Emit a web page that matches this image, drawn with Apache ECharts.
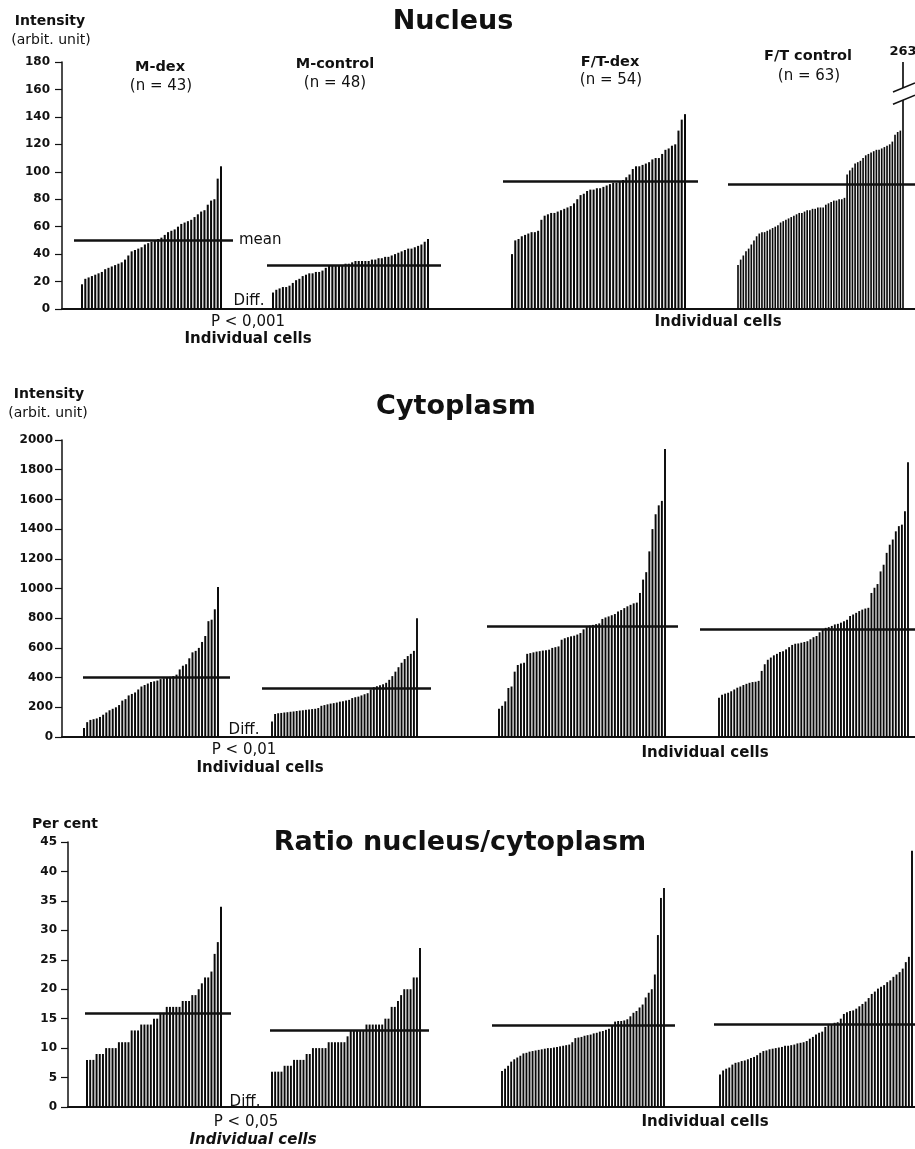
<!DOCTYPE html>
<html><head><meta charset="utf-8">
<script src="https://cdn.jsdelivr.net/npm/echarts@6/dist/echarts.min.js"></script>
<style>html,body{margin:0;padding:0;background:#fff}#c{width:915px;height:1149px}</style>
</head><body><div id="c"></div>
<script>
// ---------------- DATA ----------------
const groupNames = ['M-dex', 'M-control', 'F/T-dex', 'F/T control'];
const groupCounts = ['(n = 43)', '(n = 48)', '(n = 54)', '(n = 63)'];

// Nucleus intensity (arbit. unit), individual cells sorted ascending
const nucleusMdex = [18, 22, 23, 24, 25, 26, 27, 29, 30, 31, 32, 33, 34, 36, 39, 42, 43, 44, 45, 47, 48, 49, 50, 51, 52, 54, 56, 57, 58, 60, 62, 63, 64, 65, 67, 69, 71, 72, 76, 79, 80, 95, 104];
const nucleusMcontrol = [12, 14, 15, 16, 16, 17, 19, 21, 22, 24, 25, 26, 26, 27, 27, 28, 30, 32, 32, 32, 32, 32, 33, 33, 34, 35, 35, 35, 35, 35, 36, 36, 37, 37, 38, 38, 39, 40, 41, 42, 43, 44, 44, 45, 46, 47, 49, 51];
const nucleusFTdex = [40, 50, 51, 53, 54, 55, 56, 56, 57, 65, 68, 69, 70, 70, 71, 72, 73, 74, 75, 77, 80, 83, 84, 86, 87, 87, 88, 88, 89, 90, 91, 92, 92, 93, 94, 96, 98, 102, 104, 104, 105, 106, 107, 109, 110, 110, 113, 116, 117, 119, 120, 130, 138, 142];
const nucleusFTcontrol = [32, 36, 39, 42, 44, 47, 50, 53, 55, 56, 56, 57, 58, 59, 60, 61, 63, 64, 65, 66, 67, 68, 69, 70, 70, 71, 72, 72, 73, 73, 74, 74, 74, 76, 77, 78, 79, 79, 80, 80, 81, 98, 101, 103, 106, 107, 108, 110, 112, 113, 114, 115, 116, 116, 117, 118, 119, 120, 122, 127, 129, 130, 263];
const nucleusMeans = [50, 32, 93, 91];

// Cytoplasm intensity (arbit. unit)
const cytoMdex = [60, 100, 115, 120, 125, 135, 150, 165, 180, 190, 200, 215, 245, 255, 280, 290, 300, 320, 340, 350, 360, 370, 375, 380, 390, 395, 400, 405, 410, 420, 455, 480, 490, 530, 570, 580, 600, 640, 680, 780, 790, 860, 1010];
const cytoMcontrol = [105, 155, 160, 162, 165, 167, 170, 172, 175, 178, 180, 183, 185, 188, 190, 195, 210, 215, 220, 225, 228, 232, 238, 240, 245, 250, 262, 268, 272, 280, 288, 295, 320, 335, 342, 348, 355, 365, 385, 410, 440, 470, 500, 525, 545, 560, 580, 800];
const cytoFTdex = [190, 210, 240, 330, 340, 440, 485, 495, 500, 560, 565, 570, 575, 578, 582, 585, 588, 600, 605, 610, 655, 665, 672, 678, 682, 690, 700, 725, 740, 750, 755, 760, 765, 795, 805, 812, 820, 828, 845, 855, 868, 880, 890, 900, 905, 970, 1060, 1110, 1250, 1400, 1500, 1560, 1590, 1940];
const cytoFTcontrol = [265, 285, 292, 298, 308, 320, 332, 340, 350, 358, 365, 370, 372, 378, 445, 490, 520, 535, 550, 560, 572, 578, 590, 605, 620, 628, 630, 635, 640, 645, 658, 672, 680, 705, 725, 735, 740, 748, 758, 762, 770, 780, 790, 815, 825, 836, 848, 858, 865, 870, 970, 1005, 1030, 1115, 1160, 1240, 1295, 1330, 1385, 1420, 1430, 1520, 1850];
const cytoMeans = [400, 325, 744, 724];

// Ratio nucleus/cytoplasm (per cent)
const ratioMdex = [8, 8, 8, 9, 9, 9, 10, 10, 10, 10, 11, 11, 11, 11, 13, 13, 13, 14, 14, 14, 14, 15, 15, 16, 16, 17, 17, 17, 17, 17, 18, 18, 18, 19, 19, 20, 21, 22, 22, 23, 26, 28, 34];
const ratioMcontrol = [6, 6, 6, 6, 7, 7, 7, 8, 8, 8, 8, 9, 9, 10, 10, 10, 10, 10, 11, 11, 11, 11, 11, 11, 12, 13, 13, 13, 13, 13, 14, 14, 14, 14, 14, 14, 15, 15, 17, 17, 18, 19, 20, 20, 20, 22, 22, 27];
const ratioFTdex = [6.1, 6.5, 7.0, 7.7, 8.1, 8.4, 8.7, 9.1, 9.2, 9.4, 9.5, 9.6, 9.7, 9.8, 9.9, 10.0, 10.0, 10.1, 10.2, 10.3, 10.4, 10.5, 10.6, 11.0, 11.7, 11.8, 11.9, 12.1, 12.2, 12.3, 12.5, 12.6, 12.8, 12.9, 13.1, 13.3, 13.8, 14.5, 14.6, 14.6, 14.7, 14.9, 15.4, 16.0, 16.3, 16.9, 17.4, 18.6, 19.4, 20.0, 22.5, 29.2, 35.5, 37.2];
const ratioFTcontrol = [5.5, 6.2, 6.5, 6.7, 7.2, 7.5, 7.6, 7.8, 7.9, 8.1, 8.3, 8.5, 8.8, 9.2, 9.5, 9.6, 9.8, 9.9, 10.0, 10.1, 10.2, 10.4, 10.4, 10.5, 10.6, 10.8, 10.9, 11.0, 11.2, 11.6, 11.9, 12.3, 12.6, 12.8, 13.6, 13.9, 14.0, 14.3, 14.4, 15.0, 15.8, 16.1, 16.3, 16.4, 16.7, 17.1, 17.5, 17.9, 18.5, 19.2, 19.6, 20.1, 20.4, 20.7, 21.2, 21.5, 22.1, 22.5, 22.9, 23.5, 24.6, 25.5, 43.5];
const ratioMeans = [16.0, 13.1, 13.8, 14.0];

// axis [min, max, interval]
const nucleusAxis = [0, 180, 20];
const cytoAxis = [0, 2000, 200];
const ratioAxis = [0, 45, 5];

// ---------------- LAYOUT ----------------
const FONT = '"DejaVu Sans", "Liberation Sans", sans-serif';
const INK = '#111';
const panels = [
  { axis: nucleusAxis, means: nucleusMeans, meanLabels: ['mean', '', '', ''],
    values: [nucleusMdex, nucleusMcontrol, nucleusFTdex, nucleusFTcontrol],
    top: 62, bottom: 309, axisX: 62, labelMargin: 12,
    layout: [{bars: [82, 221], mean: [74, 233]}, {bars: [273, 428], mean: [267, 441]},
             {bars: [512, 685], mean: [503, 698]}, {bars: [738, 903], mean: [728, 915]}] },
  { axis: cytoAxis, means: cytoMeans, meanLabels: ['', '', '', ''],
    values: [cytoMdex, cytoMcontrol, cytoFTdex, cytoFTcontrol],
    top: 440, bottom: 737, axisX: 62, labelMargin: 9,
    layout: [{bars: [84, 218], mean: [83, 230]}, {bars: [272, 417], mean: [262, 431]},
             {bars: [499, 665], mean: [487, 678]}, {bars: [719, 908], mean: [700, 915]}] },
  { axis: ratioAxis, means: ratioMeans, meanLabels: ['', '', '', ''],
    values: [ratioMdex, ratioMcontrol, ratioFTdex, ratioFTcontrol],
    top: 842, bottom: 1107, axisX: 68, labelMargin: 11,
    layout: [{bars: [87, 221], mean: [85, 231]}, {bars: [272, 420], mean: [270, 429]},
             {bars: [502, 664], mean: [492, 675]}, {bars: [720, 912], mean: [714, 915]}] }
];

const texts = [
  ['Intensity', 50, 21, 'bold', 14], ['(arbit. unit)', 51, 40, 'normal', 14],
  ['Nucleus', 453, 22, 'bold', 27],
  [groupNames[0], 160, 67, 'bold', 14.5], [groupCounts[0], 161, 86, 'normal', 15],
  [groupNames[1], 335, 64, 'bold', 14.5], [groupCounts[1], 335, 83, 'normal', 15],
  [groupNames[2], 610, 62, 'bold', 14.5], [groupCounts[2], 611, 80, 'normal', 15],
  [groupNames[3], 808, 56, 'bold', 14.5], [groupCounts[3], 809, 76, 'normal', 15],
  ['Diff.', 249, 301, 'normal', 15], ['P < 0,001', 248, 322, 'normal', 15],
  ['Individual cells', 248, 339, 'bold', 15], ['Individual cells', 718, 322, 'bold', 15],
  ['Intensity', 49, 394, 'bold', 14], ['(arbit. unit)', 48, 413, 'normal', 14],
  ['Cytoplasm', 456, 407, 'bold', 27],
  ['Diff.', 244, 730, 'normal', 15], ['P < 0,01', 244, 750, 'normal', 15],
  ['Individual cells', 260, 768, 'bold', 15], ['Individual cells', 705, 753, 'bold', 15],
  ['Per cent', 65, 824, 'bold', 14],
  ['Ratio nucleus/cytoplasm', 460, 843, 'bold', 27],
  ['Diff.', 245, 1102, 'normal', 15], ['P < 0,05', 246, 1122, 'normal', 15],
  ['Individual cells', 253, 1140, 'italic bold', 15], ['Individual cells', 705, 1122, 'bold', 15]
];

// ---------------- BUILD ----------------
const grid = [], xAxis = [], yAxis = [], series = [], overflow = [];
panels.forEach((p) => {
  const height = p.bottom - p.top;
  const gi = grid.length;
  grid.push({ left: p.axisX, right: 0, top: p.top, height: height, containLabel: false, outerBoundsMode: 'none' });
  xAxis.push({ gridIndex: gi, type: 'value', min: 0, max: 1,
    axisLine: { show: true, onZero: false, lineStyle: { color: INK, width: 2 } },
    axisTick: { show: false }, axisLabel: { show: false }, splitLine: { show: false } });
  yAxis.push({ gridIndex: gi, type: 'value', min: p.axis[0], max: p.axis[1], interval: p.axis[2],
    axisLine: { show: true, lineStyle: { color: INK, width: 1.5 } },
    axisTick: { show: true, length: 7, lineStyle: { color: INK, width: 1.2 } },
    axisLabel: { color: INK, fontSize: 12, fontWeight: 'bold', fontFamily: FONT, margin: p.labelMargin,
                 formatter: (v) => String(v) },
    splitLine: { show: false } });

  p.values.forEach((vals, k) => {
    const L = p.layout[k];
    const n = vals.length;
    const W = L.mean[1] - L.mean[0];
    const pitch = (L.bars[1] - L.bars[0]) / (n - 1);
    const xmin = 1 - (L.bars[0] - L.mean[0]) / pitch;
    const xmax = xmin + W / pitch;
    const g = grid.length;
    grid.push({ left: L.mean[0], width: W, top: p.top, height: height, containLabel: false, outerBoundsMode: 'none' });
    xAxis.push({ gridIndex: g, type: 'value', min: xmin, max: xmax, show: false });
    yAxis.push({ gridIndex: g, type: 'value', min: p.axis[0], max: p.axis[1], show: false });
    series.push({
      type: 'bar', xAxisIndex: g, yAxisIndex: g, silent: true, clip: true,
      barWidth: Math.max(1.4, pitch * 0.62),
      itemStyle: { color: '#0a0a0a' },
      label: { show: false, position: 'top', distance: 4, color: INK, fontSize: 13,
               fontWeight: 'bold', fontFamily: FONT, formatter: (q) => q.value[1] },
      data: vals.map((v, i) => {
        if (v > p.axis[1]) { overflow.push({ grid: g, x: i + 1, max: p.axis[1] }); return { value: [i + 1, v], label: { show: true } }; }
        return [i + 1, v];
      }),
      markLine: {
        silent: true, symbol: ['none', 'none'], animation: false,
        lineStyle: { color: INK, width: 2.5, type: 'solid' },
        label: { show: !!p.meanLabels[k], position: 'end', distance: 6, formatter: p.meanLabels[k] || ' ',
                 color: INK, fontSize: 15, fontFamily: FONT },
        emphasis: { disabled: true },
        data: [{ yAxis: p.means[k] }]
      }
    });
  });
});

const textGraphics = texts.map((t, i) => ({
  type: 'text', id: 'txt' + i, x: t[1], y: t[2], z: 100, silent: true,
  style: { text: t[0], font: t[3] + ' ' + t[4] + 'px ' + FONT, fill: INK,
           textAlign: 'center', textVerticalAlign: 'middle', align: 'center', verticalAlign: 'middle' }
}));

const chart = echarts.init(document.getElementById('c'), null, { renderer: 'canvas' });
chart.setOption({
  animation: false, backgroundColor: '#fff',
  textStyle: { fontFamily: FONT },
  grid, xAxis, yAxis, series,
  graphic: { elements: textGraphics }
});

// axis-break marks for values beyond the axis maximum
const breakGraphics = [];
overflow.forEach((o, j) => {
  const lo = chart.convertToPixel({ gridIndex: o.grid }, [o.x, o.max * 0.845]);
  const hi = chart.convertToPixel({ gridIndex: o.grid }, [o.x, o.max * 0.895]);
  const bx = lo[0];
  breakGraphics.push({ type: 'polygon', id: 'brk' + j, z: 90, silent: true,
    shape: { points: [[bx - 10, lo[1] + 4], [bx + 12, lo[1] - 5], [bx + 12, hi[1] - 5], [bx - 10, hi[1] + 4]] },
    style: { fill: '#fff' } });
  breakGraphics.push({ type: 'line', id: 'brkA' + j, z: 91, silent: true,
    shape: { x1: bx - 10, y1: lo[1] + 4, x2: bx + 12, y2: lo[1] - 5 }, style: { stroke: INK, lineWidth: 1.5 } });
  breakGraphics.push({ type: 'line', id: 'brkB' + j, z: 91, silent: true,
    shape: { x1: bx - 10, y1: hi[1] + 4, x2: bx + 12, y2: hi[1] - 5 }, style: { stroke: INK, lineWidth: 1.5 } });
});
chart.setOption({ graphic: { elements: textGraphics.concat(breakGraphics) } });
</script>
</body></html>
